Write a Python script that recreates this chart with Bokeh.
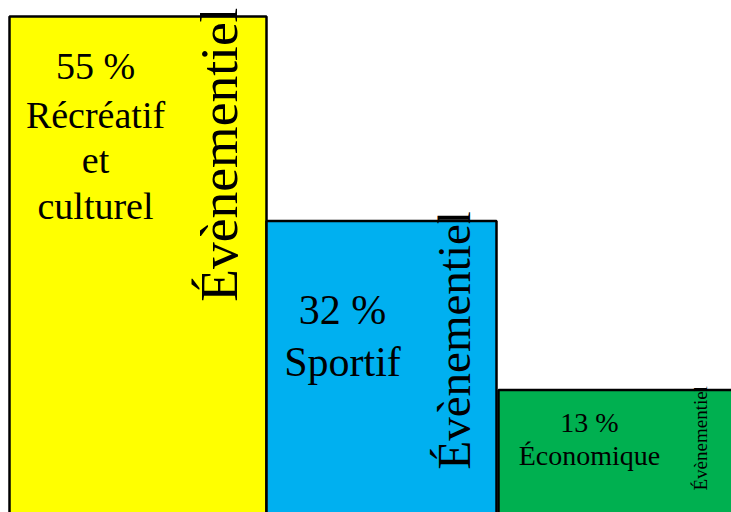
from math import pi
from bokeh.plotting import figure
from bokeh.models import ColumnDataSource, Range1d
from bokeh.core.properties import value
from bokeh.embed import file_html
from bokeh.resources import INLINE

# ---- data ----
categories = ["Récréatif et culturel", "Sportif", "Économique"]
shares = [55, 32, 13]
pct_labels = ["55 %", "32 %", "13 %"]
name_lines = [["Récréatif", "et", "culturel"], ["Sportif"], ["Économique"]]
side_label = "Évènementiel"

# ---- layout / style ----
colors = ["#FFFF00", "#00B0F0", "#00B050"]
bar_left = [9, 266, 498]
bar_right = [266, 496, 820]
text_x = [95, 342, 589]
side_x = [218, 453, 700]
side_dy = [-9, -10, -4]
font_sizes = [38, 42, 28]
side_sizes = [53.5, 47, 19]
line_offsets = [[49, 98, 143, 189], [89, 141], [32, 65]]
FONT = "Liberation Serif"

W, H = 731, 512
p = figure(width=W, height=H, output_backend="svg", toolbar_location=None,
           x_range=Range1d(0, W), y_range=Range1d(-0.76, 56.8),
           min_border=0, outline_line_color=None)
p.axis.visible = False
p.xgrid.visible = False
p.ygrid.visible = False
p.background_fill_color = "white"

bars = ColumnDataSource(dict(left=bar_left, right=bar_right, top=shares,
                             bottom=[-3] * len(shares), color=colors, cat=categories))
p.quad(left="left", right="right", top="top", bottom="bottom", source=bars,
       fill_color="color", line_color="black", line_width=2.5)

# horizontal labels
tx, ty, tt, toff, tsz = [], [], [], [], []
for i, v in enumerate(shares):
    lines = [pct_labels[i]] + name_lines[i]
    for j, t in enumerate(lines):
        tx.append(text_x[i])
        ty.append(v)
        tt.append(t)
        toff.append(line_offsets[i][j])
        tsz.append(f"{font_sizes[i]}px")
src = ColumnDataSource(dict(x=tx, y=ty, text=tt, yo=toff, size=tsz))
p.text(x="x", y="y", text="text", y_offset="yo", text_font_size="size", source=src,
       text_font=value(FONT), text_align="center", text_baseline="alphabetic",
       text_color="black")

# vertical labels
vsrc = ColumnDataSource(dict(x=side_x, y=shares, text=[side_label] * 3, yo=side_dy,
                             size=[f"{s}px" for s in side_sizes]))
p.text(x="x", y="y", text="text", y_offset="yo", text_font_size="size", source=vsrc,
       angle=pi / 2, text_font=value(FONT), text_align="right", text_baseline="middle",
       text_color="black")

open("out.html", "w").write(file_html(p, INLINE))
